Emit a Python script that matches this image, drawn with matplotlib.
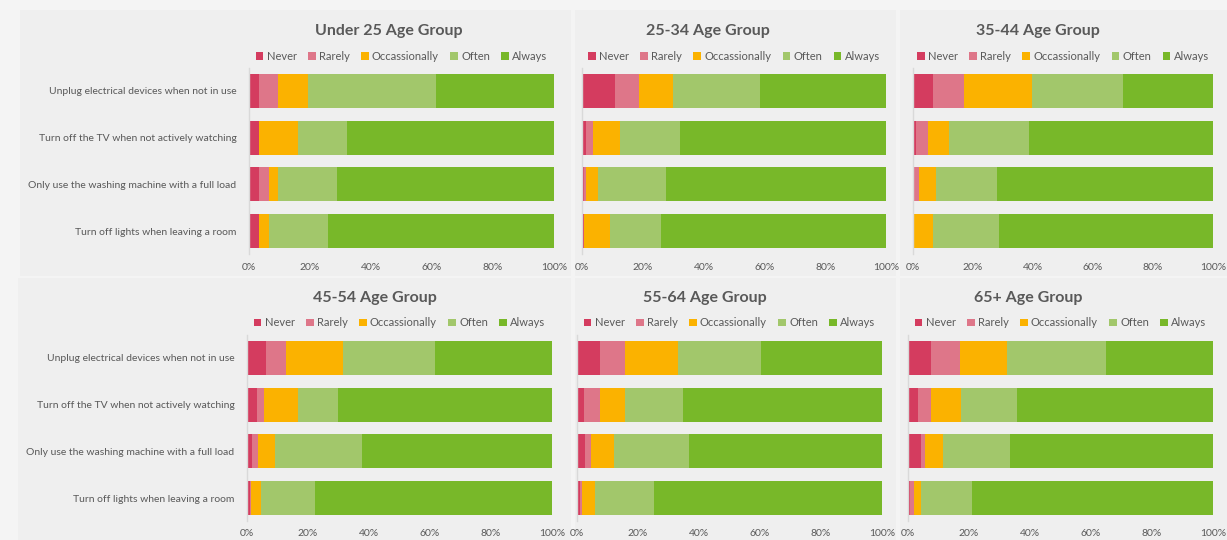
import matplotlib.pyplot as plt
import matplotlib.patches as mpatches
import numpy as np

plt.rcParams['font.family'] = ['Lato', 'DejaVu Sans']

actions = ["Unplug electrical devices when not in use",
           "Turn off the TV when not actively watching",
           "Only use the washing machine with a full load",
           "Turn off lights when leaving a room"]
responses = ["Never", "Rarely", "Occassionally", "Often", "Always"]
colors = ["#d43c5f", "#de7689", "#fbb200", "#a2c76b", "#78b829"]

groups = ["Under 25", "25-34", "35-44", "45-54", "55-64", "65+"]

# share of answers (%) per action, columns follow `responses`
under_25 = [[3.3, 6.3, 9.8, 42.0, 38.6],
            [3.3, 0.0, 12.7, 16.2, 67.8],
            [3.3, 3.1, 3.1, 19.5, 71.0],
            [3.3, 0.0, 3.1, 19.5, 74.1]]
age_25_34 = [[11.0, 7.9, 11.1, 28.7, 41.3],
             [1.4, 2.3, 8.8, 19.8, 67.7],
             [0.7, 0.6, 4.0, 22.4, 72.3],
             [0.6, 0.0, 8.6, 16.8, 74.0]]
age_35_44 = [[6.7, 10.2, 22.8, 30.4, 29.9],
             [1.1, 3.8, 7.1, 26.5, 61.5],
             [0.4, 1.7, 5.6, 20.4, 71.9],
             [0.2, 0.2, 6.1, 22.1, 71.4]]
age_45_54 = [[6.2, 6.5, 18.7, 30.4, 38.2],
             [3.3, 2.4, 11.0, 13.2, 70.1],
             [1.6, 2.0, 5.5, 28.7, 62.2],
             [1.1, 0.2, 3.3, 17.7, 77.7]]
age_55_64 = [[7.6, 8.3, 17.1, 27.2, 39.8],
             [2.2, 5.4, 8.3, 19.0, 65.1],
             [2.5, 2.0, 7.5, 24.8, 63.2],
             [0.9, 0.7, 4.3, 19.4, 74.7]]
age_65_plus = [[7.5, 9.5, 15.3, 32.7, 35.0],
               [3.3, 4.3, 9.8, 18.4, 64.2],
               [4.4, 1.1, 6.0, 21.8, 66.7],
               [0.7, 1.3, 2.4, 16.6, 79.0]]

tables = [under_25, age_25_34, age_35_44, age_45_54, age_55_64, age_65_plus]

W, H = 1227, 540
text_col = "#595959"

fig = plt.figure(figsize=(W / 100, H / 100), dpi=100)
fig.patch.set_facecolor("#f4f4f4")


def fx(px):
    return px / W


def fy(py):
    return 1 - py / H


# background layer holding the chart boxes
bg = fig.add_axes([0, 0, 1, 1], zorder=-1)
bg.set_xlim(0, W)
bg.set_ylim(H, 0)
bg.axis("off")
boxes = [(20, 10, 571, 276), (575, 10, 896, 276), (900, 10, 1227, 276),
         (18, 278, 571, 540), (575, 278, 896, 540), (900, 278, 1227, 540)]
for l, t, r, b in boxes:
    bg.add_patch(mpatches.Rectangle((l, t), r - l, b - t, facecolor="#efefef", edgecolor="none"))

# plot area: left, right, top, bottom, title x
areas = [(249, 554, 67.6, 254.4, 389), (582, 886, 67.6, 254.4, 708), (913, 1213, 67.6, 254.4, 1038),
         (247, 552, 334.6, 521.4, 375), (577, 882, 334.6, 521.4, 705), (908, 1213, 334.6, 521.4, 1028)]

for i, (grp, data) in enumerate(zip(groups, tables)):
    l, r, t, b, tx = areas[i]
    ax = fig.add_axes([fx(l), fy(b), fx(r - l), (b - t) / H])
    ax.set_facecolor("none")
    data = np.array(data)
    y = np.arange(len(actions))
    left = np.zeros(len(actions))
    for j, resp in enumerate(responses):
        ax.barh(y, data[:, j], left=left, height=0.73, color=colors[j], label=resp,
                edgecolor="none")
        left += data[:, j]
    ax.set_xlim(0, 100)
    ax.set_ylim(3.5, -0.5)
    ax.set_xticks(np.arange(0, 101, 20))
    ax.set_xticklabels([f"{v}%" for v in range(0, 101, 20)])
    ax.tick_params(axis="x", length=0, labelsize=7.5, colors=text_col, pad=6.5 if i < 3 else 5.5)
    ax.tick_params(axis="y", length=0, labelsize=7.5, colors=text_col, pad=9)
    if i % 3 == 0:
        ax.set_yticks(y)
        ax.set_yticklabels(actions)
    else:
        ax.set_yticks([])
    for s in ["top", "right", "bottom"]:
        ax.spines[s].set_visible(False)
    ax.spines["left"].set_color("#d9d9d9")
    ax.spines["left"].set_linewidth(1.0)

    title_y = 31 if i < 3 else 298
    fig.text(fx(tx), fy(title_y), f"{grp} Age Group", ha="center", va="center",
             fontsize=11.5, fontweight="bold", color=text_col)
    ax.legend(loc="center", bbox_to_anchor=(0.5, (fy(title_y + 25) - fy(b)) / ((b - t) / H)),
              ncol=5, frameon=False, fontsize=8, handlelength=0.7, handleheight=0.7,
              handletextpad=0.3, columnspacing=1.0, labelcolor=text_col)

fig.savefig("out.png", dpi=100, facecolor=fig.get_facecolor())
